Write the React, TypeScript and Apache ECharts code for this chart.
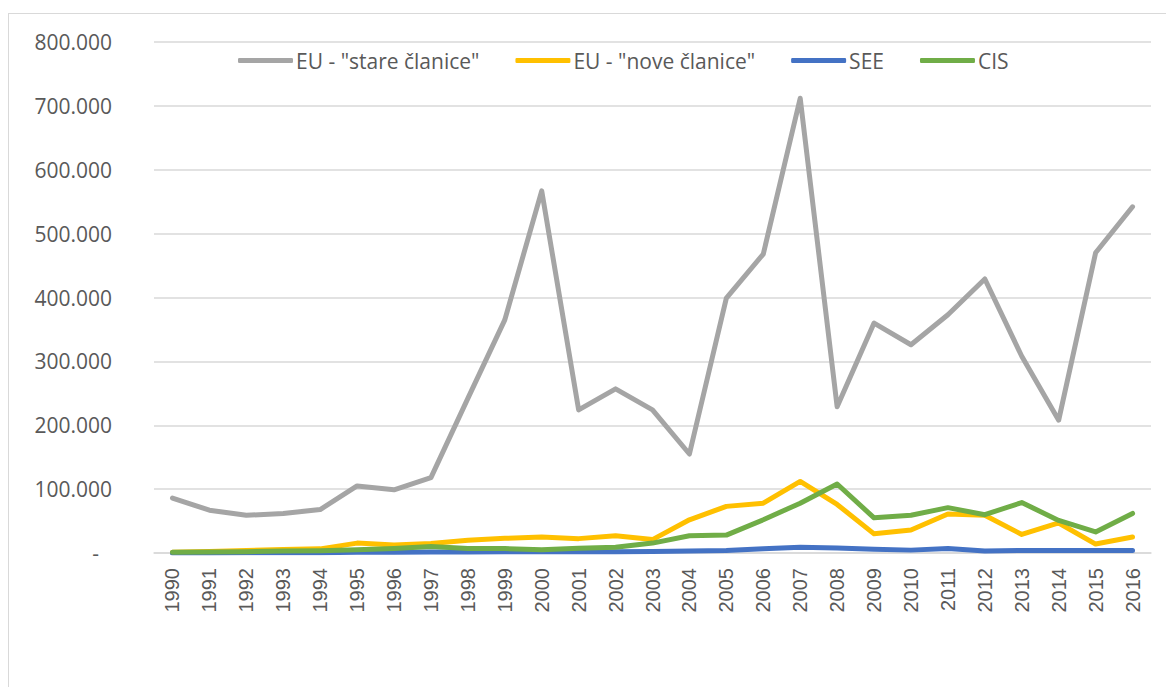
import React, { useEffect, useRef } from "react";
import * as echarts from "echarts";

const years = ["1990","1991","1992","1993","1994","1995","1996","1997","1998","1999","2000","2001","2002","2003","2004","2005","2006","2007","2008","2009","2010","2011","2012","2013","2014","2015","2016"];
const euOld = [86000, 67000, 59000, 62000, 68000, 105000, 99000, 118000, 242000, 365000, 567000, 224000, 257000, 224000, 155000, 399000, 468000, 712000, 229000, 360000, 326000, 373000, 429000, 308000, 208000, 470000, 542000];
const euNew = [1000, 2500, 4000, 5500, 6500, 15500, 12500, 15000, 20000, 23000, 25000, 22500, 27000, 21000, 52000, 73000, 78000, 112000, 76000, 30000, 36000, 61000, 59000, 29000, 47000, 14000, 25000];
const see = [0, 0, 500, 500, 500, 1000, 1000, 1500, 1500, 2000, 2000, 2000, 2000, 2500, 3000, 4000, 6500, 9000, 8000, 6000, 4500, 7000, 3000, 4000, 4000, 4000, 4000];
const cis = [1000, 1500, 2000, 3000, 3500, 5000, 7000, 10000, 7000, 7000, 5000, 7500, 9000, 15500, 27000, 28000, 52000, 78000, 108000, 55000, 59000, 71000, 60000, 79000, 51000, 33000, 62000];
const seriesNames = ['EU - "stare članice"', 'EU - "nove članice"', "SEE", "CIS"];
const colors = ["#A5A5A5", "#FFC000", "#4472C4", "#70AD47"];

function fmt(v: number): string {
  if (v === 0) return "{d|-}";
  const s = String(Math.round(v / 1000));
  return s + ".000";
}

export default function App() {
  const ref = useRef<HTMLDivElement>(null);
  useEffect(() => {
    if (!ref.current) return;
    const chart = echarts.init(ref.current, undefined, { renderer: "svg" });
    const data = [euOld, euNew, see, cis];
    chart.setOption({
      animation: false,
      legend: {
        left: 233,
        top: 45,
        itemWidth: 55,
        itemHeight: 5,
        itemGap: 36,
        icon: "roundRect",
        textStyle: { fontFamily: "Open Sans", fontSize: 21, color: "#595959", padding: [0, 0, 0, -2] },
        data: seriesNames,
      },
      grid: { left: 154, right: 15, top: 42, bottom: 134, containLabel: false },
      xAxis: {
        type: "category",
        data: years,
        boundaryGap: true,
        axisLine: { show: true, lineStyle: { color: "#D9D9D9", width: 1.5 } },
        axisTick: { show: false },
        axisLabel: {
          rotate: 90,
          margin: 15,
          interval: 0,
          fontFamily: "Liberation Sans",
          fontSize: 20,
          color: "#595959",
        },
      },
      yAxis: {
        type: "value",
        min: 0,
        max: 800000,
        interval: 100000,
        axisLine: { show: false },
        axisTick: { show: false },
        splitLine: { lineStyle: { color: "#D9D9D9", width: 1.5 } },
        axisLabel: {
          margin: 42,
          formatter: fmt,
          fontFamily: "Open Sans",
          fontSize: 21,
          color: "#595959",
          rich: { d: { fontFamily: "Open Sans", fontSize: 21, color: "#595959", padding: [0, 13, 0, 0] } },
        },
      },
      series: data.map((d, i) => ({
        name: seriesNames[i],
        type: "line",
        data: d,
        symbol: "none",
        color: colors[i],
        lineStyle: { width: 5, color: colors[i], cap: "round", join: "round" },
      })),
    });
    return () => chart.dispose();
  }, []);
  return (
    <div style={{ position: "fixed", left: 0, top: 0, width: 1166, height: 687, overflow: "hidden", background: "#fff" }}>
      <div style={{ position: "absolute", left: 8, top: 13, width: 1300, height: 900, border: "1.5px solid #D9D9D9", boxSizing: "border-box" }} />
      <div ref={ref} style={{ position: "absolute", left: 0, top: 0, width: 1166, height: 687 }} />
    </div>
  );
}
